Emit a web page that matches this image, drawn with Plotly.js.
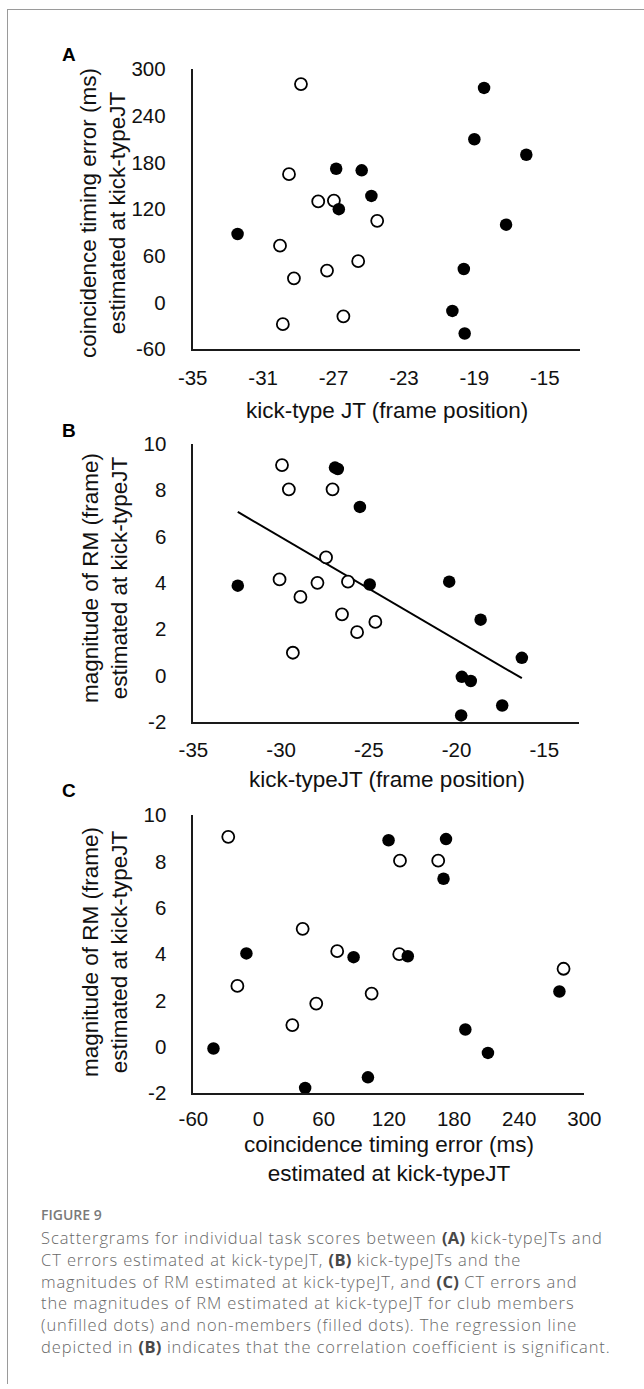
<!DOCTYPE html>
<html>
<head>
<meta charset="utf-8">
<script src="https://cdn.plot.ly/plotly-3.0.1.min.js"></script>
<style>
  html, body { margin: 0; padding: 0; background: #fff; }
  #wrap { position: relative; width: 644px; height: 1389px; overflow: hidden; }
  #chart { position: absolute; left: 0; top: 0; width: 644px; height: 1389px; }
  #frame { position: absolute; left: 7px; top: 9px; width: 650px; height: 1374px;
           border-left: 1px solid #9a9a9a; border-top: 1px solid #9a9a9a; pointer-events: none; }
  .cap { position: absolute; left: 41px; white-space: nowrap; font-family: "Open Sans", "Lato", sans-serif;
         color: #686868; font-size: 16.5px; font-weight: 300; letter-spacing: 0.9px; line-height: 22px; }
  .cap b { color: #484848; font-weight: 700; letter-spacing: 0.3px; }
  .fig { font-size: 14px; font-weight: 600; color: #7a7a7a; letter-spacing: 0; }
</style>
</head>
<body>
<div id="wrap">
  <div id="chart"></div>
  <div id="frame"></div>
  <div class="cap fig" style="top:1204px;">FIGURE 9</div>
  <div class="cap" style="top:1227px;">Scattergrams for individual task scores between <b>(A)</b> kick-typeJTs and</div>
  <div class="cap" style="top:1249px;">CT errors estimated at kick-typeJT, <b>(B)</b> kick-typeJTs and the</div>
  <div class="cap" style="top:1271px;">magnitudes of RM estimated at kick-typeJT, and <b>(C)</b> CT errors and</div>
  <div class="cap" style="top:1292px;">the magnitudes of RM estimated at kick-typeJT for club members</div>
  <div class="cap" style="top:1314px;">(unfilled dots) and non-members (filled dots). The regression line</div>
  <div class="cap" style="top:1336px;">depicted in <b>(B)</b> indicates that the correlation coefficient is significant.</div>
</div>
<script>
// ---------- DATA ----------
// Panel A: kick-type JT (frame position) vs coincidence timing error (ms)
const openA_x   = [-28.85, -29.53, -27.87, -26.98, -24.52, -30.04, -25.6, -27.37, -29.25, -26.44, -29.88];
const openA_y   = [281, 165, 130, 131, 105, 73, 53, 41, 31, -18, -28];
const filledA_x = [-32.45, -26.85, -25.4, -26.7, -24.85, -18.45, -19.0, -16.05, -17.2, -19.6, -20.25, -19.55];
const filledA_y = [88, 172, 170, 120, 137, 276, 210, 190, 100, 43, -11, -40];

// Panel B: kick-typeJT (frame position) vs magnitude of RM (frame)
const openB_x   = [-29.95, -29.56, -27.07, -27.44, -30.09, -27.93, -26.19, -28.9, -26.53, -24.63, -25.67, -29.33];
const openB_y   = [9.09, 8.04, 8.04, 5.1, 4.15, 4.0, 4.05, 3.39, 2.64, 2.31, 1.87, 0.98];
const filledB_x = [-32.47, -26.93, -26.77, -25.51, -24.95, -20.42, -18.63, -16.28, -19.7, -19.19, -17.4, -19.74];
const filledB_y = [3.88, 8.98, 8.92, 7.28, 3.93, 4.05, 2.41, 0.76, -0.06, -0.24, -1.3, -1.73];

// Panel C: coincidence timing error (ms) vs magnitude of RM (frame)
const openC_x   = [-27.9, 130.2, 165.4, 40.6, 72.4, 129.5, -19.5, 280.8, 104.1, 53.1, 31.1];
const openC_y   = [9.06, 8.03, 8.03, 5.09, 4.13, 4.0, 2.63, 3.37, 2.30, 1.87, 0.94];
const filledC_x = [119.7, 172.6, 170.3, -11.2, 87.5, 137.4, -41.5, 277, 190.4, 211.2, 100.7, 42.9];
const filledC_y = [8.91, 8.96, 7.25, 4.03, 3.87, 3.91, -0.07, 2.39, 0.75, -0.26, -1.31, -1.77];

// Tick values and labels
const ticksA_x = [-35, -31, -27, -23, -19, -15];
const labelsA_x = ['-35', '-31', '-27', '-23', '-19', '-15'];
const ticksA_y = [-60, 0, 60, 120, 180, 240, 300];
const labelsA_y = ['-60', '0', '60', '120', '180', '240', '300'];
const ticksB_x = [-35, -30, -25, -20, -15];
const labelsB_x = ['-35', '-30', '-25', '-20', '-15'];
const ticksRM = [-2, 0, 2, 4, 6, 8, 10];
const labelsRM = ['-2', '0', '2', '4', '6', '8', '10'];
const ticksC_x = [-60, 0, 60, 120, 180, 240, 300];
const labelsC_x = ['-60', '0', '60', '120', '180', '240', '300'];

// ---------- regression line for panel B (least squares on all points) ----------
const allBx = openB_x.concat(filledB_x), allBy = openB_y.concat(filledB_y);
const n = allBx.length;
const mx = allBx.reduce((a, b) => a + b, 0) / n, my = allBy.reduce((a, b) => a + b, 0) / n;
let sxy = 0, sxx = 0;
for (let i = 0; i < n; i++) { sxy += (allBx[i] - mx) * (allBy[i] - my); sxx += (allBx[i] - mx) ** 2; }
const slope = sxy / sxx, icpt = my - slope * mx;
const regX = [Math.min(...allBx), Math.max(...allBx)];
const regY = regX.map(v => icpt + slope * v);

// ---------- layout helpers ----------
const W = 644, H = 1389;
const px = v => v / W, py = v => 1 - v / H;
const FONT = 'Liberation Sans, Arial, sans-serif';

const openM = { symbol: 'circle', size: 12, color: '#ffffff', line: { color: '#000000', width: 1.8 } };
const fillM = { symbol: 'circle', size: 12.5, color: '#000000', line: { color: '#000000', width: 0 } };

function sc(x, y, m, xa, ya) {
  return { type: 'scatter', mode: 'markers', x: x, y: y, marker: m, xaxis: xa, yaxis: ya,
           cliponaxis: false, hoverinfo: 'skip' };
}

const traces = [
  sc(openA_x, openA_y, openM, 'x', 'y'),
  sc(filledA_x, filledA_y, fillM, 'x', 'y'),
  { type: 'scatter', mode: 'lines', x: regX, y: regY, xaxis: 'x2', yaxis: 'y2',
    line: { color: '#000000', width: 2 }, hoverinfo: 'skip', cliponaxis: false },
  sc(openB_x, openB_y, openM, 'x2', 'y2'),
  sc(filledB_x, filledB_y, fillM, 'x2', 'y2'),
  sc(openC_x, openC_y, openM, 'x3', 'y3'),
  sc(filledC_x, filledC_y, fillM, 'x3', 'y3')
];

function xax(dom, range, tv, tt, anchor, standoff) {
  return { domain: dom, range: range, tickvals: tv, ticktext: tt, anchor: anchor,
           showline: true, linecolor: '#1a1a1a', linewidth: 2, showgrid: false, zeroline: false,
           ticks: '', ticklabelstandoff: standoff, tickfont: { family: FONT, size: 20.5, color: '#111' },
           fixedrange: true };
}
function yax(dom, range, tv, tt, anchor) {
  return { domain: dom, range: range, tickvals: tv, ticktext: tt, anchor: anchor,
           showline: true, linecolor: '#1a1a1a', linewidth: 2, showgrid: false, zeroline: false,
           ticks: '', ticklabelstandoff: 21, tickfont: { family: FONT, size: 20.5, color: '#111' },
           fixedrange: true };
}

function ann(text, x, y, opts) {
  return Object.assign({ text: text, x: px(x), y: py(y), xref: 'paper', yref: 'paper',
    xanchor: 'center', yanchor: 'middle', showarrow: false,
    font: { family: FONT, size: 22.5, color: '#111' } }, opts || {});
}

const LBL = { family: FONT, size: 19, color: '#000' };
const layout = {
  width: W, height: H,
  margin: { l: 0, r: 0, t: 0, b: 0 },
  paper_bgcolor: '#ffffff', plot_bgcolor: '#ffffff',
  showlegend: false,
  xaxis:  xax([px(192.7), px(580)], [-35, -13], ticksA_x, labelsA_x, 'y', 9),
  yaxis:  yax([py(349), py(69.3)], [-60, 300], ticksA_y, labelsA_y, 'x'),
  xaxis2: xax([px(193.4), px(579.4)], [-35, -13], ticksB_x, labelsB_x, 'y2', 9),
  yaxis2: yax([py(721.7), py(444)], [-2, 10], ticksRM, labelsRM, 'x2'),
  xaxis3: xax([px(193.4), px(584.4)], [-60, 300], ticksC_x, labelsC_x, 'y3', 6),
  yaxis3: yax([py(1093.3), py(815)], [-2, 10], ticksRM, labelsRM, 'x3'),
  annotations: [
    ann('<b>A</b>', 69, 55, { font: LBL }),
    ann('<b>B</b>', 69, 431, { font: LBL }),
    ann('<b>C</b>', 69, 791, { font: LBL }),
    ann('coincidence timing error (ms)<br>estimated at kick-typeJT', 103, 213, { textangle: -90 }),
    ann('kick-type JT (frame position)', 387, 410),
    ann('magnitude of RM (frame)<br>estimated at kick-typeJT', 105, 578, { textangle: -90 }),
    ann('kick-typeJT (frame position)', 387, 779),
    ann('magnitude of RM (frame)<br>estimated at kick-typeJT', 105, 952, { textangle: -90 }),
    ann('coincidence timing error (ms)<br>estimated at kick-typeJT', 389, 1159)
  ]
};

Plotly.newPlot('chart', traces, layout, { staticPlot: true, displayModeBar: false });
</script>
</body>
</html>
